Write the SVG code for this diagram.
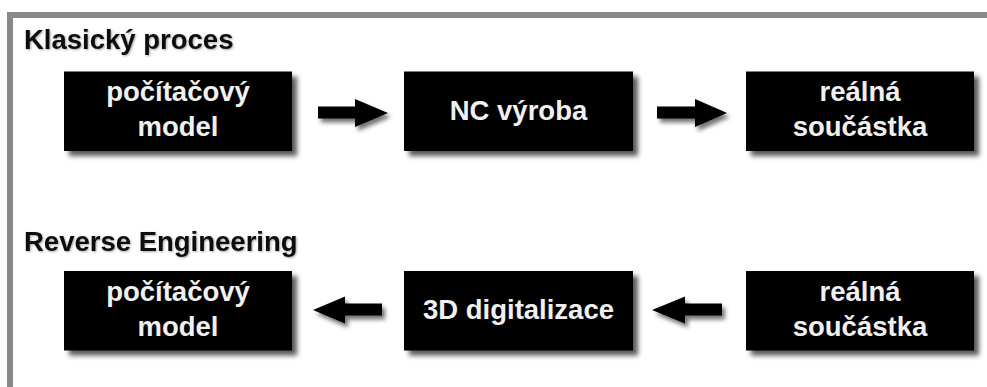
<svg xmlns="http://www.w3.org/2000/svg" width="987" height="387" viewBox="0 0 987 387">
<defs>
<filter id="sh" x="-10%" y="-20%" width="130%" height="150%">
<feDropShadow dx="5" dy="5" stdDeviation="2.5" flood-color="#000" flood-opacity="0.65"/>
</filter>
<filter id="ash" x="-20%" y="-40%" width="150%" height="190%">
<feDropShadow dx="3" dy="4" stdDeviation="2" flood-color="#000" flood-opacity="0.55"/>
</filter>
<filter id="tsh" x="-5%" y="-20%" width="110%" height="150%">
<feDropShadow dx="1" dy="1" stdDeviation="0.8" flood-color="#000" flood-opacity="0.35"/>
</filter>
</defs>
<style>
.box{fill:#000;filter:url(#sh)}
.lbl{font-family:"Liberation Sans",Arial,sans-serif;font-weight:bold;font-size:27.5px;fill:#f0f0f0;text-anchor:middle}
.ttl{font-family:"Liberation Sans",Arial,sans-serif;font-weight:bold;font-size:27.5px;fill:#111;filter:url(#tsh)}
.arr{fill:#000;filter:url(#ash)}
.frame{fill:#888}
</style>
<rect width="987" height="387" fill="#fff"/>
<rect class="frame" x="7" y="12" width="980" height="6"/>
<rect class="frame" x="7" y="12" width="6" height="375"/>
<text class="ttl" x="24" y="49">Klasický proces</text>
<text class="ttl" x="24" y="251">Reverse Engineering</text>
<g id="n1"><rect class="box" x="64" y="71.5" width="228" height="79.5"/><text class="lbl" x="178" y="101">počítačový</text><text class="lbl" x="178" y="136">model</text></g>
<g id="n2"><rect class="box" x="404" y="71.5" width="229" height="79.5"/><text class="lbl" x="518.5" y="119.5">NC výroba</text></g>
<g id="n3"><rect class="box" x="746" y="71.5" width="228" height="79.5"/><text class="lbl" x="860" y="101">reálná</text><text class="lbl" x="860" y="136">součástka</text></g>
<g id="n4"><rect class="box" x="64" y="271" width="228" height="79.5"/><text class="lbl" x="178" y="300.5">počítačový</text><text class="lbl" x="178" y="335.5">model</text></g>
<g id="n5"><rect class="box" x="404" y="271" width="229" height="79.5"/><text class="lbl" x="518.5" y="318.5">3D digitalizace</text></g>
<g id="n6"><rect class="box" x="746" y="271" width="228" height="79.5"/><text class="lbl" x="860" y="300.5">reálná</text><text class="lbl" x="860" y="335.5">součástka</text></g>
<g id="connectors">
<polygon class="arr" points="318,106.5 355,106.5 355,99 388,113 355,127 355,118.5 318,118.5"/>
<polygon class="arr" points="657,106.5 695,106.5 695,99 727,113 695,127 695,118.5 657,118.5"/>
<polygon class="arr" points="382,303.5 345,303.5 345,296.5 313,310 345,323.5 345,315.5 382,315.5"/>
<polygon class="arr" points="722,303.5 685,303.5 685,296.5 652,310 685,323.5 685,315.5 722,315.5"/>
</g>
</svg>
